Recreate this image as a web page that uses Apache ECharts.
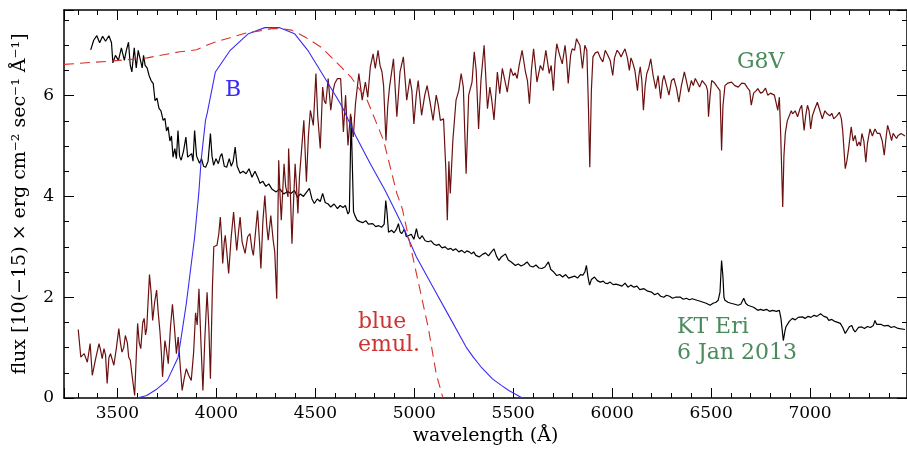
<!DOCTYPE html>
<html>
<head>
<meta charset="utf-8">
<title>KT Eri spectrum</title>
<script src="https://cdn.jsdelivr.net/npm/echarts@6/dist/echarts.min.js"></script>
<style>
  html, body { margin: 0; padding: 0; background: #fff; }
  #chart { width: 907px; height: 451px; }
</style>
</head>
<body>
<div id="chart"></div>
<script>
// KT Eri, 6 Jan 2013 (black)
const ktWave = [3365, 3380, 3396, 3410, 3425, 3440, 3457, 3470, 3477, 3490, 3505, 3520, 3535, 3545, 3556, 3565, 3573, 3585, 3595, 3605,
  3615, 3625, 3632, 3640, 3650, 3660, 3670, 3681, 3690, 3700, 3710, 3720, 3731, 3740, 3748, 3756, 3765, 3773, 3781, 3790,
  3798, 3806, 3814, 3822, 3834, 3846, 3855, 3865, 3875, 3882, 3890, 3900, 3915, 3925, 3935, 3946, 3958, 3970, 3978, 3986,
  3998, 4010, 4020, 4028, 4040, 4052, 4065, 4075, 4085, 4095, 4105, 4120, 4135, 4150, 4165, 4180, 4195, 4202, 4212, 4220,
  4235, 4250, 4265, 4280, 4302, 4320, 4340, 4360, 4377, 4395, 4410, 4425, 4440, 4455, 4470, 4483, 4495, 4510, 4525, 4537,
  4550, 4565, 4578, 4595, 4612, 4625, 4640, 4652, 4665, 4672, 4681, 4687, 4693, 4700, 4711, 4725, 4740, 4755, 4768, 4778,
  4790, 4805, 4820, 4836, 4848, 4856, 4862, 4870, 4885, 4898, 4910, 4920, 4928, 4936, 4950, 4960, 4970, 4985, 4998, 5011,
  5020, 5028, 5040, 5055, 5070, 5085, 5100, 5111, 5125, 5140, 5155, 5170, 5185, 5195, 5210, 5225, 5240, 5255, 5265, 5278,
  5290, 5300, 5311, 5328, 5345, 5360, 5375, 5390, 5403, 5415, 5428, 5440, 5450, 5461, 5475, 5490, 5500, 5511, 5525, 5540,
  5555, 5570, 5585, 5600, 5615, 5630, 5645, 5660, 5670, 5678, 5690, 5705, 5720, 5735, 5750, 5765, 5780, 5795, 5810, 5825,
  5840, 5852, 5862, 5870, 5878, 5886, 5895, 5911, 5925, 5940, 5955, 5965, 5978, 5990, 6005, 6020, 6036, 6050, 6065, 6080,
  6094, 6110, 6125, 6140, 6161, 6180, 6200, 6215, 6230, 6245, 6261, 6275, 6290, 6305, 6320, 6345, 6360, 6375, 6390, 6405,
  6428, 6445, 6460, 6475, 6495, 6510, 6525, 6536, 6545, 6553, 6560, 6565, 6570, 6585, 6600, 6620, 6636, 6650, 6665, 6675,
  6686, 6700, 6715, 6736, 6750, 6765, 6780, 6795, 6811, 6830, 6845, 6853, 6865, 6872, 6878, 6895, 6911, 6925, 6940, 6961,
  6975, 6990, 7005, 7020, 7035, 7053, 7070, 7085, 7095, 7110, 7125, 7140, 7153, 7165, 7178, 7190, 7200, 7211, 7220, 7228,
  7245, 7261, 7275, 7290, 7305, 7320, 7328, 7337, 7345, 7360, 7375, 7395, 7410, 7425, 7445, 7480];
const ktFlux = [6.91, 7.10, 7.19, 7.05, 7.18, 7.08, 7.19, 7.05, 6.65, 6.80, 6.70, 6.95, 6.70, 6.90, 7.06, 6.60, 6.47, 6.95, 6.55, 6.90,
  6.87, 6.55, 6.80, 6.60, 6.55, 6.40, 6.30, 6.24, 5.90, 5.95, 5.75, 5.70, 5.51, 5.55, 5.30, 5.38, 5.10, 5.20, 4.78, 4.95,
  4.75, 5.31, 4.80, 4.72, 4.90, 5.18, 4.78, 4.75, 4.85, 4.70, 5.31, 4.80, 4.66, 4.75, 4.60, 4.58, 4.70, 5.25, 4.80, 4.62,
  4.75, 4.65, 4.80, 4.85, 4.60, 4.58, 4.75, 4.60, 4.70, 4.98, 4.60, 4.46, 4.50, 4.45, 4.55, 4.38, 4.50, 4.48, 4.35, 4.26,
  4.30, 4.20, 4.25, 4.15, 4.09, 4.15, 4.05, 4.10, 4.06, 4.12, 3.98, 4.05, 4.00, 4.08, 4.16, 3.95, 3.86, 3.95, 3.90, 4.06,
  3.88, 3.85, 3.79, 3.85, 3.76, 3.82, 3.78, 3.82, 3.65, 3.70, 5.58, 5.55, 3.70, 3.62, 3.53, 3.50, 3.48, 3.52, 3.45, 3.43,
  3.46, 3.40, 3.42, 3.39, 3.45, 3.92, 3.70, 3.29, 3.33, 3.28, 3.35, 3.46, 3.30, 3.26, 3.35, 3.20, 3.19, 3.25, 3.15, 3.36,
  3.20, 3.16, 3.22, 3.12, 3.10, 3.12, 3.05, 3.03, 3.05, 2.98, 3.00, 2.95, 2.97, 2.93, 2.96, 2.90, 2.93, 2.88, 2.92, 2.90,
  2.86, 2.90, 2.83, 2.80, 2.85, 2.88, 2.82, 2.90, 2.96, 2.82, 2.73, 2.80, 2.78, 2.86, 2.74, 2.70, 2.68, 2.63, 2.66, 2.62,
  2.65, 2.70, 2.62, 2.60, 2.64, 2.58, 2.57, 2.60, 2.58, 2.70, 2.55, 2.50, 2.43, 2.45, 2.40, 2.45, 2.38, 2.40, 2.42, 2.38,
  2.45, 2.44, 2.50, 2.63, 2.40, 2.24, 2.35, 2.40, 2.33, 2.30, 2.32, 2.28, 2.27, 2.30, 2.25, 2.26, 2.24, 2.22, 2.28, 2.20,
  2.24, 2.20, 2.22, 2.15, 2.17, 2.12, 2.10, 2.05, 2.08, 2.02, 2.00, 2.04, 2.02, 1.98, 2.00, 2.00, 1.96, 1.98, 1.95, 1.97,
  1.94, 1.92, 1.90, 1.88, 1.84, 1.88, 1.90, 1.94, 2.10, 2.73, 2.40, 2.00, 1.94, 1.90, 1.88, 1.86, 1.84, 1.86, 1.98, 1.88,
  1.84, 1.82, 1.80, 1.74, 1.76, 1.74, 1.76, 1.72, 1.74, 1.72, 1.74, 1.58, 1.14, 1.30, 1.41, 1.52, 1.58, 1.55, 1.60, 1.61,
  1.58, 1.62, 1.60, 1.64, 1.62, 1.67, 1.62, 1.60, 1.54, 1.56, 1.52, 1.50, 1.48, 1.40, 1.28, 1.36, 1.42, 1.44, 1.35, 1.31,
  1.40, 1.41, 1.38, 1.42, 1.40, 1.44, 1.54, 1.46, 1.44, 1.46, 1.43, 1.44, 1.40, 1.42, 1.38, 1.36];

// G8V template star (dark red)
const g8Wave = [3302, 3315, 3332, 3348, 3362, 3373, 3390, 3407, 3415, 3423, 3432, 3440, 3448, 3457, 3465, 3482, 3495, 3507, 3515, 3523,
  3532, 3540, 3550, 3557, 3565, 3573, 3587, 3602, 3610, 3618, 3628, 3635, 3642, 3648, 3662, 3670, 3678, 3688, 3698, 3706,
  3715, 3722, 3728, 3740, 3748, 3757, 3768, 3778, 3788, 3798, 3807, 3818, 3827, 3838, 3848, 3860, 3873, 3885, 3895, 3903,
  3912, 3922, 3932, 3942, 3953, 3962, 3970, 3980, 3987, 4003, 4012, 4020, 4026, 4032, 4040, 4045, 4055, 4062, 4075, 4087,
  4095, 4103, 4112, 4120, 4130, 4145, 4158, 4170, 4180, 4187, 4198, 4208, 4218, 4225, 4235, 4245, 4255, 4262, 4275, 4287,
  4295, 4305, 4315, 4322, 4328, 4342, 4350, 4362, 4365, 4372, 4382, 4390, 4398, 4405, 4412, 4420, 4430, 4442, 4455, 4465,
  4475, 4490, 4503, 4512, 4525, 4537, 4545, 4553, 4565, 4572, 4578, 4590, 4598, 4612, 4628, 4642, 4653, 4665, 4678, 4692,
  4703, 4720, 4737, 4753, 4765, 4778, 4792, 4803, 4817, 4827, 4837, 4845, 4857, 4866, 4875, 4895, 4912, 4928, 4945, 4962,
  4978, 4988, 4998, 5010, 5020, 5037, 5053, 5065, 5078, 5095, 5111, 5122, 5132, 5148, 5160, 5167, 5175, 5182, 5195, 5211,
  5225, 5237, 5248, 5262, 5275, 5292, 5303, 5313, 5325, 5337, 5353, 5370, 5382, 5392, 5403, 5420, 5432, 5445, 5458, 5470,
  5487, 5500, 5510, 5520, 5530, 5545, 5562, 5572, 5582, 5592, 5603, 5620, 5637, 5650, 5665, 5682, 5692, 5703, 5712, 5720,
  5735, 5748, 5762, 5770, 5778, 5790, 5798, 5810, 5820, 5830, 5837, 5850, 5862, 5872, 5880, 5887, 5895, 5903, 5915, 5928,
  5940, 5953, 5965, 5978, 5990, 6003, 6012, 6025, 6035, 6045, 6055, 6065, 6077, 6087, 6095, 6103, 6115, 6128, 6135, 6142,
  6150, 6158, 6167, 6175, 6185, 6195, 6207, 6220, 6232, 6245, 6255, 6262, 6275, 6287, 6300, 6312, 6325, 6337, 6350, 6365,
  6375, 6387, 6400, 6410, 6420, 6432, 6442, 6455, 6465, 6475, 6482, 6487, 6495, 6503, 6518, 6532, 6545, 6553, 6560, 6570,
  6585, 6603, 6620, 6637, 6655, 6670, 6685, 6695, 6703, 6715, 6728, 6736, 6750, 6761, 6775, 6786, 6800, 6820, 6830, 6837,
  6845, 6852, 6862, 6868, 6875, 6885, 6895, 6905, 6912, 6925, 6937, 6950, 6958, 6970, 6978, 6987, 6995, 7003, 7012, 7025,
  7037, 7050, 7062, 7075, 7087, 7100, 7110, 7120, 7135, 7148, 7158, 7165, 7172, 7178, 7186, 7195, 7208, 7218, 7228, 7238,
  7248, 7255, 7262, 7272, 7282, 7290, 7303, 7315, 7328, 7340, 7353, 7365, 7375, 7385, 7392, 7400, 7412, 7420, 7428, 7437,
  7445, 7460, 7480];
const g8Flux = [1.36, 0.81, 0.88, 0.71, 1.08, 0.45, 0.78, 1.08, 0.95, 0.78, 0.98, 0.85, 0.29, 0.80, 0.88, 0.65, 1.00, 1.38, 1.10, 0.91,
  1.00, 1.24, 1.10, 0.81, 0.75, 0.48, 0.05, 1.48, 1.10, 0.98, 1.50, 1.58, 1.25, 1.38, 2.45, 2.10, 1.54, 1.90, 2.14, 1.70,
  1.31, 0.90, 0.42, 1.14, 0.95, 0.68, 1.40, 1.86, 1.40, 0.88, 1.21, 0.60, 0.15, 0.40, 0.58, 0.45, 0.35, 0.90, 1.69, 1.45,
  2.17, 1.10, 0.15, 1.20, 2.10, 1.40, 0.38, 2.20, 3.00, 3.03, 3.25, 3.59, 3.20, 2.67, 3.10, 3.23, 2.80, 2.47, 3.20, 3.69,
  3.30, 2.93, 3.30, 3.59, 3.10, 2.87, 3.20, 3.26, 2.95, 2.83, 3.30, 3.72, 3.10, 2.57, 3.50, 4.02, 3.40, 3.13, 3.62, 3.13,
  2.90, 1.97, 4.72, 4.00, 3.53, 4.65, 4.20, 3.99, 4.95, 4.30, 3.06, 3.90, 4.65, 4.20, 3.66, 4.40, 4.90, 5.51, 4.29, 5.20,
  5.71, 5.41, 6.44, 5.60, 4.95, 6.17, 5.90, 5.84, 6.34, 6.00, 5.71, 6.10, 6.24, 6.34, 6.34, 5.28, 6.01, 5.01, 5.64, 5.18,
  5.84, 6.44, 5.91, 6.27, 5.97, 6.57, 6.83, 6.54, 6.90, 6.60, 6.47, 6.20, 5.11, 5.80, 6.17, 6.73, 5.58, 6.47, 6.77, 5.91,
  6.34, 6.10, 5.44, 6.00, 6.30, 5.61, 6.01, 6.20, 5.91, 5.51, 6.01, 5.80, 5.51, 5.54, 4.50, 3.53, 4.70, 4.06, 5.11, 5.91,
  6.10, 6.44, 6.17, 4.45, 6.01, 6.27, 6.87, 6.50, 5.34, 6.30, 7.00, 5.74, 6.17, 5.90, 5.52, 6.47, 6.04, 6.54, 6.30, 6.07,
  6.54, 6.40, 6.45, 6.34, 6.60, 6.90, 6.47, 6.30, 5.84, 6.50, 6.93, 6.27, 6.60, 6.50, 6.90, 6.44, 6.60, 6.10, 6.70, 7.03,
  6.80, 6.63, 7.00, 6.70, 6.24, 6.80, 6.93, 6.90, 7.13, 7.05, 7.00, 6.54, 7.00, 6.90, 5.80, 4.58, 6.10, 6.77, 6.85, 6.87,
  6.75, 6.67, 6.90, 6.80, 6.70, 6.40, 6.75, 6.90, 6.85, 6.77, 6.85, 6.93, 6.75, 6.50, 6.75, 6.67, 6.50, 6.10, 6.40, 6.57,
  6.30, 5.71, 6.20, 6.44, 6.55, 6.73, 6.40, 6.14, 6.40, 5.94, 6.30, 6.40, 6.20, 6.01, 6.30, 6.34, 6.15, 5.87, 6.20, 6.47,
  6.30, 6.07, 6.30, 6.20, 6.34, 6.25, 6.17, 6.30, 6.27, 6.20, 6.10, 5.58, 6.00, 6.30, 6.25, 6.17, 6.10, 4.91, 5.80, 6.20,
  6.25, 6.27, 6.20, 6.17, 6.25, 6.24, 6.15, 6.10, 5.81, 6.05, 6.10, 6.14, 6.05, 6.07, 6.15, 6.01, 6.05, 6.01, 6.00, 5.71,
  5.97, 5.20, 3.79, 4.80, 5.25, 5.50, 5.51, 5.70, 5.64, 5.70, 5.58, 5.75, 5.81, 5.31, 5.60, 5.81, 5.70, 5.34, 5.60, 5.75,
  5.87, 5.70, 5.54, 5.70, 5.64, 5.60, 5.65, 5.54, 5.60, 5.67, 5.55, 5.31, 4.90, 4.55, 4.70, 4.95, 5.38, 5.10, 5.21, 5.00,
  5.08, 5.00, 5.25, 5.10, 4.68, 5.05, 5.34, 5.20, 5.34, 5.25, 5.25, 5.10, 4.82, 5.20, 5.41, 5.30, 5.11, 5.25, 5.28, 5.15,
  5.21, 5.25, 5.20];

// Johnson B response (scaled)
const bWave = [3600, 3607, 3648, 3700, 3752, 3807, 3848, 3890, 3911, 3923, 3945, 3953, 3995, 4070, 4162, 4245, 4320, 4395, 4462, 4545,
  4612, 4637, 4703, 4778, 4853, 4945, 5011, 5095, 5178, 5262, 5300, 5337, 5395, 5440, 5478, 5537, 5550];
const bResp = [0.00, 0.02, 0.05, 0.18, 0.35, 0.81, 1.87, 3.19, 4.06, 4.72, 5.51, 5.64, 6.47, 6.90, 7.23, 7.35, 7.35, 7.23, 6.90, 6.37,
  5.94, 5.77, 5.21, 4.65, 4.12, 3.39, 2.80, 2.20, 1.61, 1.01, 0.80, 0.62, 0.38, 0.25, 0.15, 0.02, 0.00];

// "blue emulsion" response (scaled, dashed)
const emulWave = [3230, 3480, 3650, 3815, 3900, 3950, 4000, 4070, 4145, 4210, 4280, 4330, 4380, 4450, 4530, 4630, 4680, 4762, 4845, 4912,
  4940, 5011, 5070, 5111, 5145];
const emulResp = [6.62, 6.69, 6.75, 6.87, 6.91, 7.00, 7.07, 7.15, 7.24, 7.28, 7.33, 7.33, 7.30, 7.16, 6.96, 6.57, 6.37, 5.91, 5.11, 4.06,
  3.75, 2.47, 1.41, 0.48, 0.00];

const zip = (xs, ys) => xs.map((x, i) => [x, ys[i]]);

const serif = '"DejaVu Serif", "Liberation Serif", serif';

const chart = echarts.init(document.getElementById('chart'), null, { renderer: 'canvas' });

const xBase = {
  type: 'value',
  min: 3230,
  max: 7490,
  minInterval: 500,
  maxInterval: 500,
  splitLine: { show: false },
  axisLine: { onZero: false, lineStyle: { color: '#000', width: 1.5 } },
  axisTick: { inside: true, length: 10, lineStyle: { color: '#000', width: 1 } },
  minorTick: { show: true, splitNumber: 5, length: 5, lineStyle: { color: '#000', width: 1 } },
};
const yBase = {
  type: 'value',
  min: 0,
  max: 7.7,
  interval: 2,
  splitLine: { show: false },
  axisLine: { onZero: false, lineStyle: { color: '#000', width: 1.5 } },
  axisTick: { inside: true, length: 10, lineStyle: { color: '#000', width: 1 } },
  minorTick: { show: true, splitNumber: 4, length: 5, lineStyle: { color: '#000', width: 1 } },
};

chart.setOption({
  animation: false,
  backgroundColor: '#fff',
  grid: { left: 64, right: -9, top: 10, height: 388 },
  xAxis: [
    Object.assign({}, xBase, {
      position: 'bottom',
      name: 'wavelength (Å)',
      nameLocation: 'middle',
      nameGap: 27,
      nameTextStyle: { fontFamily: serif, fontSize: 19, color: '#000' },
      axisLabel: {
        fontFamily: serif, fontSize: 17, color: '#000', margin: 7,
        showMinLabel: false, showMaxLabel: false,
        formatter: v => String(v),
      },
    }),
    Object.assign({}, xBase, { position: 'top', axisLabel: { show: false } }),
  ],
  yAxis: [
    Object.assign({}, yBase, {
      position: 'left',
      name: 'flux [10(−15) × erg cm⁻² sec⁻¹ Å⁻¹]',
      nameLocation: 'middle',
      nameGap: 34,
      nameTextStyle: { fontFamily: serif, fontSize: 19, color: '#000' },
      axisLabel: { fontFamily: serif, fontSize: 17, color: '#000', margin: 10, showMaxLabel: false },
    }),
    Object.assign({}, yBase, { position: 'right', axisLabel: { show: false } }),
  ],
  series: [
    {
      name: 'KT Eri',
      type: 'line',
      data: zip(ktWave, ktFlux),
      showSymbol: false,
      lineStyle: { color: '#000', width: 1.2 },
      z: 2,
    },
    {
      name: 'G8V',
      type: 'line',
      data: zip(g8Wave, g8Flux),
      showSymbol: false,
      lineStyle: { color: '#6b1111', width: 1.2 },
      z: 3,
    },
    {
      name: 'B',
      type: 'line',
      data: zip(bWave, bResp),
      showSymbol: false,
      lineStyle: { color: '#3a2cf2', width: 1.1 },
      z: 4,
    },
    {
      name: 'blue emul.',
      type: 'line',
      data: zip(emulWave, emulResp),
      showSymbol: false,
      lineStyle: { color: '#d8302c', width: 1.1, type: [10, 6] },
      z: 4,
    },
  ],
  graphic: [
    { type: 'text', left: 225, top: 79, style: { text: 'B', font: '22px ' + serif, fill: '#3a2cf2' } },
    { type: 'text', left: 737, top: 51, style: { text: 'G8V', font: '22px ' + serif, fill: '#4a8a5c' } },
    { type: 'text', left: 677, top: 314, style: { text: 'KT Eri\n6 Jan 2013', font: '22px ' + serif, lineHeight: 26, fill: '#4a8a5c' } },
    { type: 'text', left: 358, top: 311, style: { text: 'blue\nemul.', font: '22px ' + serif, lineHeight: 23, fill: '#cc3333' } },
  ],
});
</script>
</body>
</html>
